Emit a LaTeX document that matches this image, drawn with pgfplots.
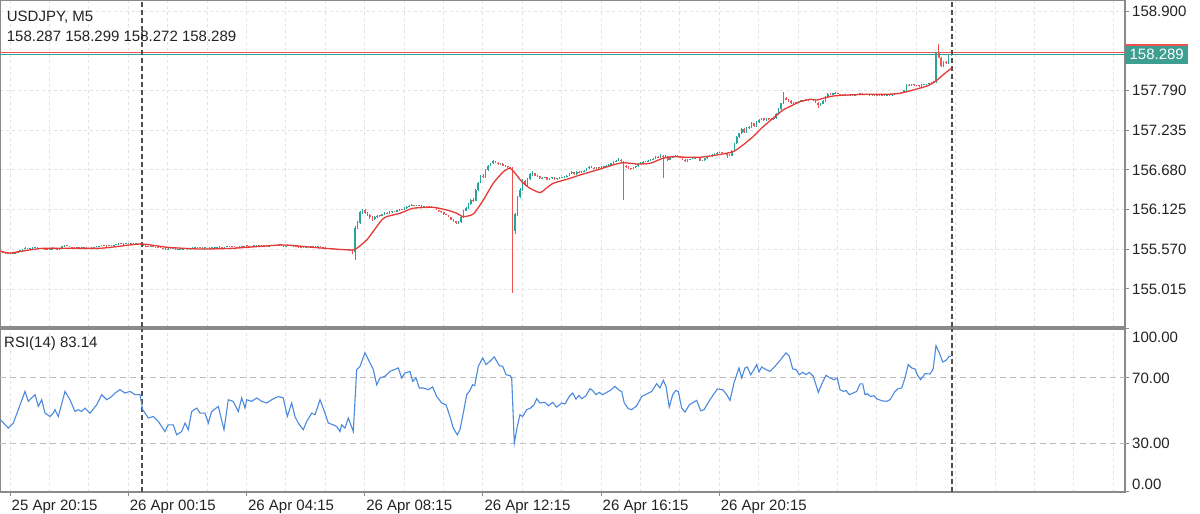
\documentclass[border=0pt]{standalone}
\usepackage{fontspec}
\setmainfont{Liberation Sans}
\usepackage{pgfplots}
\pgfplotsset{compat=1.18}
\usepackage{pgfplotstable}
\definecolor{bull}{HTML}{26A69A}
\definecolor{bear}{HTML}{EF5350}
\definecolor{macol}{HTML}{E53935}
\definecolor{rsicol}{HTML}{4A89DC}
\definecolor{framecol}{HTML}{8A8A8A}
\definecolor{gridcol}{HTML}{E2E2E2}
\definecolor{levelcol}{HTML}{BDBDBD}
\definecolor{sepcol}{HTML}{505050}
\definecolor{txtcol}{HTML}{222222}
\definecolor{tagcol}{HTML}{3E9E90}

% USDJPY M5 candles: open high low close (one row per bar)
\pgfplotstableread{
o h l c
155.535 155.540 155.526 155.530
155.530 155.534 155.518 155.522
155.522 155.526 155.511 155.515
155.515 155.518 155.505 155.510
155.510 155.516 155.507 155.512
155.512 155.515 155.503 155.508
155.508 155.519 155.505 155.515
155.515 155.540 155.512 155.535
155.535 155.560 155.532 155.555
155.555 155.580 155.550 155.575
155.575 155.596 155.572 155.590
155.590 155.594 155.574 155.578
155.578 155.589 155.575 155.585
155.585 155.594 155.581 155.590
155.590 155.600 155.587 155.596
155.596 155.599 155.576 155.580
155.580 155.592 155.577 155.588
155.588 155.591 155.571 155.575
155.575 155.578 155.566 155.570
155.570 155.574 155.562 155.566
155.566 155.574 155.563 155.570
155.570 155.578 155.567 155.574
155.574 155.582 155.571 155.578
155.578 155.581 155.564 155.568
155.568 155.594 155.565 155.590
155.590 155.615 155.587 155.610
155.610 155.630 155.606 155.625
155.625 155.628 155.611 155.615
155.615 155.618 155.601 155.605
155.605 155.608 155.588 155.592
155.592 155.595 155.581 155.585
155.585 155.594 155.582 155.590
155.590 155.593 155.582 155.586
155.586 155.596 155.583 155.592
155.592 155.600 155.589 155.596
155.596 155.599 155.584 155.588
155.588 155.591 155.580 155.584
155.584 155.596 155.581 155.592
155.592 155.604 155.589 155.600
155.600 155.609 155.597 155.605
155.605 155.619 155.602 155.615
155.615 155.626 155.612 155.622
155.622 155.625 155.612 155.616
155.616 155.619 155.610 155.614
155.614 155.624 155.611 155.620
155.620 155.630 155.617 155.626
155.626 155.636 155.623 155.632
155.632 155.644 155.629 155.640
155.640 155.653 155.637 155.648
155.648 155.651 155.640 155.644
155.644 155.647 155.638 155.642
155.642 155.652 155.639 155.648
155.648 155.657 155.645 155.652
155.652 155.655 155.646 155.650
155.650 155.653 155.642 155.646
155.646 155.650 155.641 155.645
155.645 155.652 155.642 155.648
155.648 155.651 155.626 155.630
155.630 155.633 155.616 155.620
155.620 155.623 155.608 155.612
155.612 155.615 155.602 155.606
155.606 155.612 155.603 155.608
155.608 155.611 155.600 155.604
155.604 155.607 155.594 155.598
155.598 155.601 155.588 155.592
155.592 155.595 155.581 155.585
155.585 155.588 155.574 155.578
155.578 155.581 155.566 155.570
155.570 155.584 155.567 155.580
155.580 155.583 155.574 155.578
155.578 155.582 155.574 155.578
155.578 155.581 155.560 155.564
155.564 155.570 155.561 155.566
155.566 155.572 155.563 155.568
155.568 155.580 155.565 155.576
155.576 155.582 155.573 155.578
155.578 155.581 155.566 155.570
155.570 155.589 155.567 155.585
155.585 155.596 155.582 155.592
155.592 155.600 155.589 155.596
155.596 155.599 155.590 155.594
155.594 155.597 155.586 155.590
155.590 155.594 155.586 155.590
155.590 155.593 155.587 155.590
155.590 155.593 155.578 155.582
155.582 155.596 155.579 155.592
155.592 155.598 155.589 155.594
155.594 155.602 155.591 155.598
155.598 155.604 155.595 155.600
155.600 155.606 155.597 155.602
155.602 155.605 155.575 155.580
155.580 155.602 155.577 155.598
155.598 155.616 155.595 155.612
155.612 155.615 155.606 155.610
155.610 155.613 155.604 155.608
155.608 155.611 155.596 155.600
155.600 155.603 155.592 155.596
155.596 155.616 155.593 155.612
155.612 155.615 155.604 155.608
155.608 155.619 155.605 155.615
155.615 155.618 155.610 155.614
155.614 155.617 155.608 155.612
155.612 155.618 155.609 155.614
155.614 155.622 155.611 155.618
155.618 155.624 155.615 155.620
155.620 155.623 155.612 155.616
155.616 155.619 155.611 155.615
155.615 155.618 155.610 155.614
155.614 155.617 155.608 155.612
155.612 155.620 155.609 155.616
155.616 155.624 155.613 155.620
155.620 155.628 155.617 155.624
155.624 155.632 155.621 155.628
155.628 155.634 155.625 155.630
155.630 155.633 155.624 155.628
155.628 155.631 155.606 155.610
155.610 155.618 155.607 155.614
155.614 155.626 155.611 155.622
155.622 155.628 155.619 155.624
155.624 155.627 155.608 155.612
155.612 155.615 155.600 155.604
155.604 155.607 155.596 155.600
155.600 155.603 155.590 155.594
155.594 155.597 155.586 155.590
155.590 155.602 155.587 155.598
155.598 155.608 155.595 155.604
155.604 155.612 155.601 155.608
155.608 155.611 155.602 155.606
155.606 155.616 155.603 155.612
155.612 155.622 155.609 155.618
155.618 155.621 155.601 155.605
155.605 155.608 155.594 155.598
155.598 155.601 155.586 155.590
155.590 155.593 155.578 155.582
155.582 155.585 155.574 155.578
155.578 155.581 155.570 155.574
155.574 155.577 155.564 155.568
155.568 155.571 155.556 155.560
155.560 155.570 155.557 155.566
155.566 155.569 155.556 155.560
155.560 155.570 155.557 155.566
155.566 155.574 155.563 155.570
155.570 155.573 155.551 155.555
155.555 155.560 155.500 155.530
155.530 155.900 155.420 155.870
155.870 155.960 155.850 155.940
155.940 156.110 155.920 156.090
156.090 156.140 156.070 156.120
156.120 156.130 156.060 156.080
156.080 156.090 156.030 156.050
156.050 156.060 156.000 156.020
156.020 156.030 155.970 155.990
155.990 156.030 155.980 156.020
156.020 156.050 156.010 156.040
156.040 156.055 156.025 156.035
156.035 156.070 156.030 156.060
156.060 156.085 156.050 156.075
156.075 156.085 156.060 156.070
156.070 156.100 156.065 156.090
156.090 156.110 156.080 156.100
156.100 156.110 156.085 156.095
156.095 156.125 156.090 156.115
156.115 156.140 156.110 156.130
156.130 156.140 156.115 156.125
156.125 156.155 156.120 156.145
156.145 156.170 156.140 156.160
156.160 156.185 156.155 156.175
156.175 156.200 156.170 156.190
156.190 156.195 156.175 156.180
156.180 156.195 156.175 156.185
156.185 156.190 156.170 156.175
156.175 156.182 156.165 156.170
156.170 156.180 156.165 156.172
156.172 156.178 156.162 156.168
156.168 156.175 156.160 156.165
156.165 156.170 156.155 156.160
156.160 156.165 156.145 156.150
156.150 156.155 156.115 156.120
156.120 156.125 156.095 156.100
156.100 156.110 156.080 156.085
156.085 156.090 156.055 156.060
156.060 156.070 156.045 156.050
156.050 156.055 156.015 156.020
156.020 156.025 155.980 155.985
155.985 155.990 155.955 155.960
155.960 155.965 155.925 155.935
155.935 155.960 155.925 155.950
155.950 156.030 155.940 156.020
156.020 156.120 156.010 156.110
156.110 156.160 156.100 156.150
156.150 156.210 156.140 156.200
156.200 156.270 156.190 156.260
156.260 156.280 156.230 156.250
156.250 156.410 156.240 156.400
156.400 156.510 156.390 156.500
156.500 156.610 156.490 156.600
156.600 156.620 156.560 156.580
156.580 156.690 156.570 156.680
156.680 156.750 156.670 156.740
156.740 156.780 156.730 156.770
156.770 156.820 156.760 156.800
156.800 156.810 156.770 156.780
156.780 156.790 156.750 156.760
156.760 156.775 156.750 156.765
156.765 156.770 156.735 156.740
156.740 156.750 156.720 156.725
156.725 156.735 156.710 156.720
156.720 156.725 156.700 156.705
156.705 156.720 154.960 155.830
155.830 156.080 155.780 156.060
156.060 156.320 156.040 156.300
156.300 156.420 156.280 156.400
156.400 156.550 156.390 156.530
156.530 156.545 156.450 156.470
156.470 156.565 156.460 156.550
156.550 156.630 156.540 156.620
156.620 156.660 156.600 156.630
156.630 156.640 156.590 156.600
156.600 156.615 156.580 156.590
156.590 156.600 156.550 156.560
156.560 156.580 156.550 156.570
156.570 156.585 156.560 156.575
156.575 156.580 156.535 156.545
156.545 156.570 156.540 156.560
156.560 156.585 156.555 156.575
156.575 156.580 156.540 156.550
156.550 156.570 156.545 156.560
156.560 156.580 156.555 156.570
156.570 156.585 156.560 156.575
156.575 156.590 156.570 156.580
156.580 156.610 156.575 156.600
156.600 156.640 156.595 156.630
156.630 156.660 156.625 156.650
156.650 156.655 156.610 156.620
156.620 156.660 156.615 156.650
156.650 156.660 156.630 156.640
156.640 156.660 156.635 156.650
156.650 156.680 156.645 156.670
156.670 156.710 156.665 156.700
156.700 156.730 156.695 156.720
156.720 156.730 156.700 156.710
156.710 156.720 156.690 156.700
156.700 156.725 156.695 156.715
156.715 156.720 156.695 156.705
156.705 156.730 156.700 156.720
156.720 156.740 156.715 156.730
156.730 156.745 156.725 156.735
156.735 156.760 156.730 156.750
156.750 156.780 156.745 156.770
156.770 156.800 156.765 156.790
156.790 156.815 156.785 156.805
156.805 156.840 156.800 156.820
156.820 156.830 156.790 156.800
156.800 156.810 156.260 156.740
156.740 156.750 156.710 156.720
156.720 156.730 156.690 156.700
156.700 156.710 156.685 156.695
156.695 156.725 156.690 156.715
156.715 156.740 156.710 156.730
156.730 156.770 156.725 156.760
156.760 156.790 156.755 156.780
156.780 156.800 156.770 156.790
156.790 156.810 156.785 156.800
156.800 156.820 156.795 156.810
156.810 156.830 156.805 156.820
156.820 156.840 156.815 156.830
156.830 156.870 156.825 156.860
156.860 156.870 156.840 156.850
156.850 156.900 156.845 156.880
156.880 156.890 156.560 156.860
156.860 156.885 156.850 156.875
156.875 156.880 156.810 156.820
156.820 156.860 156.815 156.850
156.850 156.880 156.845 156.870
156.870 156.890 156.865 156.880
156.880 156.885 156.860 156.870
156.870 156.875 156.850 156.860
156.860 156.865 156.815 156.820
156.820 156.825 156.790 156.800
156.800 156.825 156.795 156.820
156.820 156.835 156.815 156.830
156.830 156.845 156.825 156.840
156.840 156.850 156.835 156.845
156.845 156.860 156.840 156.850
156.850 156.855 156.805 156.810
156.810 156.820 156.800 156.815
156.815 156.845 156.810 156.840
156.840 156.865 156.835 156.860
156.860 156.875 156.855 156.870
156.870 156.895 156.865 156.890
156.890 156.915 156.885 156.910
156.910 156.925 156.905 156.920
156.920 156.935 156.915 156.925
156.925 156.930 156.910 156.915
156.915 156.920 156.900 156.905
156.905 156.910 156.840 156.890
156.890 156.900 156.875 156.880
156.880 156.960 156.875 156.950
156.950 157.060 156.940 157.050
157.050 157.150 157.040 157.140
157.140 157.200 157.130 157.190
157.190 157.260 157.180 157.250
157.250 157.260 157.200 157.210
157.210 157.280 157.200 157.270
157.270 157.290 157.255 157.280
157.280 157.350 157.270 157.330
157.330 157.340 157.280 157.290
157.290 157.360 157.285 157.350
157.350 157.390 157.340 157.380
157.380 157.410 157.370 157.400
157.400 157.410 157.360 157.370
157.370 157.410 157.365 157.400
157.400 157.410 157.380 157.390
157.390 157.400 157.375 157.385
157.385 157.410 157.380 157.400
157.400 157.470 157.395 157.460
157.460 157.540 157.450 157.530
157.530 157.620 157.520 157.610
157.610 157.770 157.600 157.690
157.690 157.700 157.650 157.660
157.660 157.670 157.630 157.640
157.640 157.650 157.600 157.610
157.610 157.635 157.600 157.625
157.625 157.635 157.610 157.620
157.620 157.645 157.615 157.635
157.635 157.660 157.630 157.650
157.650 157.660 157.635 157.645
157.645 157.670 157.640 157.660
157.660 157.670 157.645 157.655
157.655 157.675 157.650 157.665
157.665 157.670 157.645 157.650
157.650 157.655 157.615 157.620
157.620 157.625 157.550 157.580
157.580 157.610 157.570 157.600
157.600 157.650 157.595 157.640
157.640 157.710 157.635 157.700
157.700 157.750 157.695 157.740
157.740 157.750 157.720 157.730
157.730 157.760 157.725 157.750
157.750 157.765 157.745 157.755
157.755 157.760 157.735 157.740
157.740 157.745 157.725 157.730
157.730 157.740 157.725 157.735
157.735 157.740 157.720 157.725
157.725 157.730 157.715 157.720
157.720 157.725 157.710 157.715
157.715 157.725 157.710 157.720
157.720 157.730 157.715 157.725
157.725 157.745 157.720 157.740
157.740 157.750 157.735 157.745
157.745 157.750 157.730 157.735
157.735 157.740 157.725 157.730
157.730 157.735 157.722 157.728
157.728 157.732 157.720 157.725
157.725 157.731 157.720 157.726
157.726 157.730 157.717 157.722
157.722 157.726 157.713 157.718
157.718 157.725 157.714 157.720
157.720 157.724 157.711 157.716
157.716 157.723 157.712 157.718
157.718 157.727 157.714 157.722
157.722 157.726 157.715 157.720
157.720 157.740 157.716 157.735
157.735 157.750 157.730 157.745
157.745 157.753 157.740 157.748
157.748 157.757 157.743 157.752
157.752 157.766 157.748 157.760
157.760 157.795 157.755 157.790
157.790 157.880 157.785 157.870
157.870 157.880 157.850 157.860
157.860 157.880 157.855 157.870
157.870 157.878 157.858 157.865
157.865 157.870 157.852 157.860
157.860 157.865 157.842 157.850
157.850 157.875 157.845 157.870
157.870 157.882 157.865 157.875
157.875 157.885 157.870 157.880
157.880 157.892 157.875 157.885
157.885 157.905 157.880 157.900
157.900 157.915 157.895 157.910
157.910 158.330 157.900 158.320
158.320 158.435 158.240 158.250
158.250 158.260 158.120 158.130
158.130 158.200 158.120 158.190
158.190 158.200 158.160 158.170
158.170 158.295 158.160 158.287
158.287 158.299 158.272 158.289
}\candles

% moving average (bar index, price)
\pgfplotstableread{
x y
0 155.546
3.9 155.518
17.3 155.584
40.4 155.584
56.7 155.644
67.6 155.598
81 155.574
94.4 155.584
114.7 155.630
128.5 155.592
142 155.560
144.7 155.584
148.7 155.700
151.3 155.816
154.8 155.979
156.8 156.026
162.2 156.073
167.5 156.143
175.6 156.157
181.2 156.119
185.3 156.073
187.9 156.026
192 156.063
196.1 156.259
200.1 156.492
204.2 156.654
206.9 156.702
209 156.632
211.7 156.515
215 156.422
219.1 156.361
221.1 156.408
224.4 156.492
230 156.548
235.3 156.608
242.2 156.678
248.7 156.748
252.8 156.780
258.5 156.762
263.8 156.772
269 156.842
273.1 156.864
278.8 156.856
284 156.856
291 156.888
297.5 156.934
301.5 157.027
305.6 157.143
309.7 157.283
313.7 157.401
317.8 157.517
321.8 157.586
324.7 157.633
328.7 157.666
331.6 157.656
334 157.680
338.1 157.712
343.8 157.726
351.9 157.736
360 157.736
365.3 157.750
370.6 157.796
376.2 157.852
379.5 157.912
382.7 158.006
385.6 158.085
386.2 158.100
}\matab

% RSI(14) (bar index, value)
\pgfplotstableread{
x y
0 44.3
3.17 39.2
5.2 42.3
7.23 50.5
9.95 61.7
11.29 55.6
14.01 59.7
15.35 52.5
16.73 56.6
18.07 48.4
20.1 46.3
21.44 48.4
22.13 50.5
23.47 46.3
26.19 61.7
28.22 56.6
30.25 49.4
31.59 50.5
32.97 49.4
34.31 51.5
36.35 48.4
39.07 53.5
41.1 59.7
43.13 56.6
45.16 58.6
46.5 60.7
48.53 62.8
50.56 60.7
52.59 61.7
54.62 59.7
56.65 59.7
57.75 50.5
60.02 45.4
62.05 46.3
64.08 43.3
66.8 37.1
68.14 41.2
70.17 41.2
71.55 35.1
73.58 37.1
74.92 42.3
76.26 38.2
77.64 49.4
79.68 51.5
81.02 48.4
83.05 48.4
84.39 42.3
85.76 49.4
88.45 52.5
90.76 38.2
92.51 56.6
94.54 55.6
96.57 49.4
97.95 57.7
99.29 51.5
99.98 56.6
102.01 55.6
104.04 57.7
106.07 55.6
108.1 54.6
110.13 56.6
112.81 58.6
114.84 57.7
116.47 46.3
118.25 54.6
119.59 46.3
120.93 42.3
122.96 38.2
124.34 43.3
126.38 48.4
127.72 47.4
129.75 56.6
131.78 48.4
133.12 42.3
135.15 41.2
136.53 40.2
137.87 37.1
138.56 41.2
139.9 39.2
141.24 45.4
143.27 37.1
144.65 75.1
145.99 77.1
148.02 85.4
150.05 79.2
151.39 75.1
152.77 65.8
154.11 70.0
156.14 71.0
158.17 74.0
161.54 76.1
162.92 70.0
164.26 73.0
166.29 74.0
167.39 67.9
168.73 70.0
170.07 63.8
171.69 63.8
173.73 62.8
175.51 64.4
177.14 58.6
179.17 54.6
180.91 53.5
182.54 46.3
183.88 39.2
185.5 35.1
186.6 38.2
187.94 48.4
189.32 59.7
190.38 61.7
191.76 65.8
192.57 65.2
194.03 77.1
195.82 82.3
197.16 78.2
198.78 80.2
200.53 82.9
202.56 77.5
203.94 77.1
205.28 72.0
206.9 71.4
207.59 70.0
208.65 30.0
209.87 40.2
210.96 47.4
212.06 46.3
213.68 50.5
215.31 51.5
216.65 53.5
217.75 57.2
219.09 54.6
221.12 55.0
222.46 52.9
224.24 55.0
225.87 52.1
227.9 54.6
229.24 54.0
230.98 58.6
232.37 60.7
233.71 57.0
234.92 59.3
236.02 57.2
237.77 59.1
239.39 63.4
240.49 62.2
241.83 59.7
243.17 61.1
244.55 59.7
246.17 61.1
247.51 62.2
249.54 64.8
251.29 62.3
252.26 61.7
253.32 54.6
254.94 51.1
256.32 50.5
258.35 52.9
260.38 58.6
262.42 60.1
264.45 61.7
266.48 66.5
267.82 63.8
269.16 68.5
270.25 64.8
271.59 52.1
272.98 59.7
274.32 62.3
275.25 61.7
276.63 51.5
277.97 49.0
279.72 53.5
281.34 55.0
282.72 56.2
284.35 49.8
285.69 50.5
288.12 56.6
291.09 63.2
293.28 62.8
294.9 59.7
296.24 56.2
297.87 66.9
299.9 76.1
300.99 70.0
302.34 76.1
303.27 76.7
304.65 72.0
305.99 75.1
307.09 78.2
308.02 73.7
309.12 76.7
310.86 75.1
312.49 74.0
314.52 77.1
316.83 81.2
318.98 85.4
320.32 83.3
321.7 75.5
323.05 75.1
324.39 72.0
325.77 73.4
327.11 72.0
328.45 73.4
330.07 71.0
332.1 61.1
333.72 66.9
335.23 71.6
336.85 70.0
338.48 68.9
339.82 70.0
340.91 62.8
342.25 61.7
343.35 62.3
344.69 59.7
346.31 60.7
347.69 61.7
349.04 66.3
350.13 66.3
351.07 59.7
352 60.3
353.38 58.6
354.72 59.1
355.82 57.2
357.85 56.0
359.88 55.6
361.22 56.6
363.25 61.7
364.59 63.4
365.97 63.8
367.31 70.0
368.65 78.2
370.03 76.1
371.37 75.5
372.3 72.0
373.69 68.9
375.43 72.6
377.46 72.4
378.76 75.5
379.9 89.8
381.23 85.4
382.61 79.8
383.96 80.8
385.3 83.3
386 83.14
}\rsitab

\pgfplotsset{
  chartbase/.style={
    scale only axis, width=1125pt, xmin=-0.203, xmax=456.65,
    axis line style={draw=framecol, line width=1.2pt},
    tick style={draw=framecol, line width=1pt},
    tick align=outside, major tick length=4pt, minor tick length=0pt,
    grid style={draw=gridcol, line width=0.8pt, dash pattern=on 3pt off 3pt},
    tick label style={font=\fontsize{15}{18}\selectfont, text=txtcol},
    ytick pos=right, yticklabel pos=right,
    yticklabel style={anchor=west, inner sep=0pt, xshift=3pt},
  },
}

\begin{document}
\begin{tikzpicture}
\path[use as bounding box] (0pt,0pt) rectangle (1200pt,514pt);

% ---------- price panel ----------
\begin{axis}[chartbase, at={(0pt,514pt)}, anchor=north west, height=327pt,
  ymin=154.484, ymax=159.054,
  xtick={3.86,19.86,35.86,51.86,67.86,83.86,99.86,115.86,131.86,147.86,163.86,179.86,195.86,211.86,227.86,243.86,259.86,275.86,291.86,307.86,323.86,339.86,355.86,371.86,387.86,403.86,419.86,435.86,451.86},
  xticklabels={}, xtick style={draw=none}, xmajorgrids,
  ytick={155.015,155.570,156.125,156.680,157.235,157.790,158.900},
  yticklabels={155.015,155.570,156.125,156.680,157.235,157.790,158.900},
  ymajorgrids,
]
\addplot[draw=bear, line width=1pt, mark=none] coordinates {(-0.203,158.314) (456.65,158.314)};
\addplot[draw=bull, line width=1pt, mark=none] coordinates {(-0.203,158.289) (456.65,158.289)};
\addplot[draw=sepcol, line width=2pt, dash pattern=on 5pt off 3pt, mark=none] coordinates {(57.66,154.484) (57.66,159.054)};
\addplot[draw=sepcol, line width=2pt, dash pattern=on 5pt off 3pt, mark=none] coordinates {(386.2,154.484) (386.2,159.054)};
% wicks
\addplot[draw=none, mark=none, restrict y to domain=150:165,
  error bars/.cd, y dir=plus, y explicit, error mark=none,
  error bar style={draw=bull, line width=0.8pt, solid}]
  table[x expr=\coordindex, y expr={\thisrow{c}>=\thisrow{o} ? \thisrow{l} : 170},
        y error plus expr={\thisrow{h}-\thisrow{l}}] {\candles};
\addplot[draw=none, mark=none, restrict y to domain=150:165,
  error bars/.cd, y dir=plus, y explicit, error mark=none,
  error bar style={draw=bear, line width=0.8pt, solid}]
  table[x expr=\coordindex, y expr={\thisrow{c}<\thisrow{o} ? \thisrow{l} : 170},
        y error plus expr={\thisrow{h}-\thisrow{l}}] {\candles};
% bodies
\addplot[draw=none, mark=none, restrict y to domain=150:165,
  error bars/.cd, y dir=plus, y explicit, error mark=none,
  error bar style={draw=bull, line width=1.6pt, solid}]
  table[x expr=\coordindex, y expr={\thisrow{c}>=\thisrow{o} ? \thisrow{o} : 170},
        y error plus expr={max(\thisrow{c}-\thisrow{o},0.01)}] {\candles};
\addplot[draw=none, mark=none, restrict y to domain=150:165,
  error bars/.cd, y dir=plus, y explicit, error mark=none,
  error bar style={draw=bear, line width=1.6pt, solid}]
  table[x expr=\coordindex, y expr={\thisrow{c}<\thisrow{o} ? \thisrow{c} : 170},
        y error plus expr={max(\thisrow{o}-\thisrow{c},0.01)}] {\candles};
% moving average
\addplot[draw=macol, line width=1.3pt, mark=none, smooth, tension=0.35] table[x=x, y=y] {\matab};
\coordinate (ask) at (axis cs:456.65,158.314);
\coordinate (bid) at (axis cs:456.65,158.289);
\end{axis}

\node[anchor=west, fill=bear, minimum width=63pt, minimum height=18pt, inner sep=0pt] at (ask) {};
\node[anchor=west, fill=tagcol, text=white, minimum width=63pt, minimum height=18pt, inner sep=0pt,
  font=\fontsize{15}{18}\selectfont] at (bid) {158.289};

\node[anchor=base west, inner sep=0pt, text=txtcol, font=\fontsize{15}{18}\selectfont] at (6.7pt,492.2pt) {USDJPY, M5};
\node[anchor=base west, inner sep=0pt, text=txtcol, font=\fontsize{15}{18}\selectfont] at (6.7pt,472.3pt) {158.287 158.299 158.272 158.289};

% ---------- RSI panel ----------
\begin{axis}[chartbase, at={(0pt,185pt)}, anchor=north west, height=163pt,
  ymin=0, ymax=100,
  xtick={3.86,51.86,99.86,147.86,195.86,243.86,291.86},
  xticklabels={25 Apr 20:15,26 Apr 00:15,26 Apr 04:15,26 Apr 08:15,26 Apr 12:15,26 Apr 16:15,26 Apr 20:15},
  xtick pos=left,
  xticklabel style={anchor=north west, inner sep=0pt, xshift=1.5pt, yshift=-4pt},
  minor xtick={19.86,35.86,67.86,83.86,115.86,131.86,163.86,179.86,211.86,227.86,259.86,275.86,307.86,323.86,339.86,355.86,371.86,387.86,403.86,419.86,435.86,451.86},
  xmajorgrids, xminorgrids,
  ytick={0,30,70,100},
  yticklabels={\raisebox{2.35pt}[0pt][0pt]{0.00},\raisebox{-5.35pt}[0pt][0pt]{30.00},\raisebox{-5.35pt}[0pt][0pt]{70.00},\raisebox{-13.35pt}[0pt][0pt]{100.00}},
]
\addplot[draw=levelcol, line width=1pt, dash pattern=on 6pt off 4pt, mark=none] coordinates {(-0.203,70) (456.65,70)};
\addplot[draw=levelcol, line width=1pt, dash pattern=on 6pt off 4pt, mark=none] coordinates {(-0.203,30) (456.65,30)};
\addplot[draw=sepcol, line width=2pt, dash pattern=on 5pt off 3pt, mark=none] coordinates {(57.66,0) (57.66,100)};
\addplot[draw=sepcol, line width=2pt, dash pattern=on 5pt off 3pt, mark=none] coordinates {(386.2,0) (386.2,100)};
\addplot[draw=rsicol, line width=1.1pt, mark=none] table[x=x, y=y] {\rsitab};
\end{axis}

\node[anchor=base west, inner sep=0pt, text=txtcol, font=\fontsize{15}{18}\selectfont] at (4pt,166.5pt) {RSI(14) 83.14};
\end{tikzpicture}
\end{document}
